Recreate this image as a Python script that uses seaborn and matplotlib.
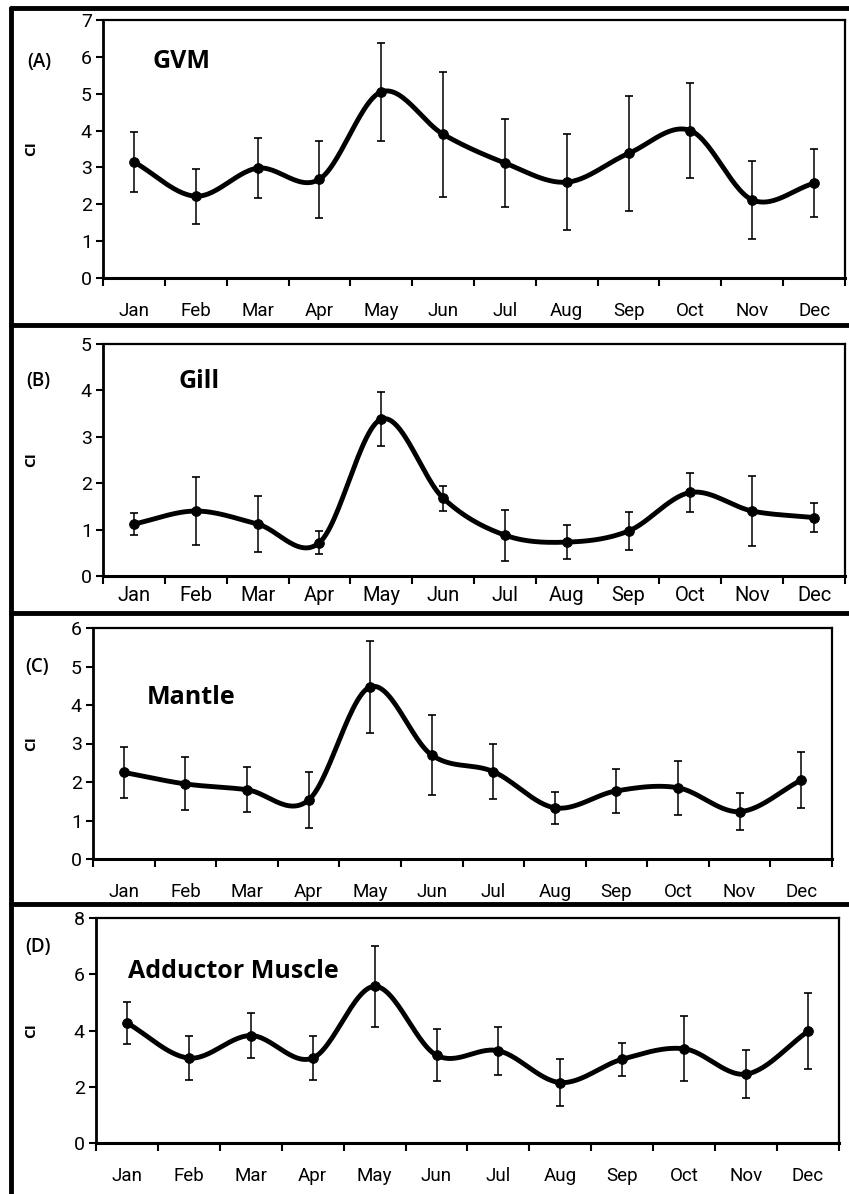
import matplotlib
matplotlib.use('Agg')
import matplotlib.pyplot as plt
import numpy as np
import seaborn as sns
from matplotlib.lines import Line2D

months = ['Jan', 'Feb', 'Mar', 'Apr', 'May', 'Jun', 'Jul', 'Aug', 'Sep', 'Oct', 'Nov', 'Dec']

# CI values, with error bar half widths
gvm = [3.15, 2.22, 2.98, 2.68, 5.05, 3.90, 3.12, 2.60, 3.38, 4.00, 2.12, 2.57]
gvm_err = [0.82, 0.75, 0.82, 1.05, 1.33, 1.70, 1.20, 1.30, 1.55, 1.30, 1.05, 0.92]

gill = [1.12, 1.40, 1.12, 0.72, 3.38, 1.68, 0.88, 0.73, 0.97, 1.80, 1.40, 1.26]
gill_err = [0.23, 0.74, 0.60, 0.25, 0.58, 0.27, 0.55, 0.36, 0.42, 0.42, 0.75, 0.32]

mantle = [2.25, 1.95, 1.80, 1.53, 4.47, 2.70, 2.27, 1.33, 1.77, 1.85, 1.23, 2.05]
mantle_err = [0.66, 0.69, 0.58, 0.73, 1.19, 1.03, 0.72, 0.42, 0.57, 0.70, 0.48, 0.73]

adductor = [4.27, 3.02, 3.82, 3.02, 5.57, 3.12, 3.28, 2.15, 2.98, 3.35, 2.45, 3.97]
adductor_err = [0.76, 0.78, 0.79, 0.78, 1.44, 0.92, 0.86, 0.82, 0.58, 1.15, 0.85, 1.35]

panels = [
    ('(A)', 'GVM', gvm, gvm_err, 7, 1),
    ('(B)', 'Gill', gill, gill_err, 5, 1),
    ('(C)', 'Mantle', mantle, mantle_err, 6, 1),
    ('(D)', 'Adductor Muscle', adductor, adductor_err, 8, 2),
]

W, H = 849, 1194
# axes boxes in pixels: left, top, right, bottom, label pad (pt), label size
boxes = [
    (103, 20, 845, 278, 17, 13.5),
    (103, 344, 845, 576, 7, 14.5),
    (93, 628, 832, 859, 17, 13.5),
    (96, 918, 839, 1143, 17, 13.5),
]
# where the panel labels sit (x of "(A)", x of name, y of "(A)", y of name)
label_pos = [
    (27, 152, 62, 62),
    (26, 179, 381, 381),
    (25, 147, 667, 697),
    (25, 128, 947, 972),
]


def smooth(x, y, n=30):
    # Catmull-Rom style curve, close to a spreadsheet "smoothed line"
    x = np.asarray(x, float)
    y = np.asarray(y, float)
    px = np.concatenate([[2 * x[0] - x[1]], x, [2 * x[-1] - x[-2]]])
    py = np.concatenate([[2 * y[0] - y[1]], y, [2 * y[-1] - y[-2]]])
    xs, ys = [], []
    t = np.linspace(0, 1, n)
    for i in range(1, len(px) - 2):
        c1x = px[i] + (px[i + 1] - px[i - 1]) / 6
        c1y = py[i] + (py[i + 1] - py[i - 1]) / 6
        c2x = px[i + 1] - (px[i + 2] - px[i]) / 6
        c2y = py[i + 1] - (py[i + 2] - py[i]) / 6
        b = [(1 - t) ** 3, 3 * (1 - t) ** 2 * t, 3 * (1 - t) * t ** 2, t ** 3]
        xs.append(b[0] * px[i] + b[1] * c1x + b[2] * c2x + b[3] * px[i + 1])
        ys.append(b[0] * py[i] + b[1] * c1y + b[2] * c2y + b[3] * py[i + 1])
    return np.concatenate(xs), np.concatenate(ys)


sns.set_theme(style='white')
plt.rcParams['font.family'] = ['Roboto', 'DejaVu Sans']
plt.rcParams['text.color'] = 'black'
plt.rcParams['xtick.color'] = 'black'
plt.rcParams['ytick.color'] = 'black'
plt.rcParams['axes.labelcolor'] = 'black'

fig = plt.figure(figsize=(W / 100, H / 100), dpi=100)

for (tag, name, vals, errs, ymax, ystep), box, lp in zip(panels, boxes, label_pos):
    l, t, r, b, pad, lsize = box
    ax = fig.add_axes([l / W, 1 - b / H, (r - l) / W, (b - t) / H])
    x = np.arange(len(months))

    ax.errorbar(x, vals, yerr=errs, fmt='none', ecolor='black',
                elinewidth=1.1, capsize=3, capthick=1.2, zorder=2)
    cx, cy = smooth(x, vals)
    ax.plot(cx, cy, color='black', linewidth=3.5, solid_capstyle='round', zorder=3)
    sns.scatterplot(x=x, y=vals, ax=ax, color='black', s=50,
                    edgecolor='black', zorder=4, legend=False)

    ax.set_xlim(-0.5, len(months) - 0.5)
    ax.set_ylim(0, ymax)
    ax.set_yticks(np.arange(0, ymax + 0.01, ystep))
    ax.set_xticks(x)
    ax.set_xticklabels(months)
    ax.set_xticks(np.arange(-0.5, len(months)), minor=True)
    ax.tick_params(axis='x', which='major', length=0, pad=pad, labelsize=lsize)
    ax.tick_params(axis='x', which='minor', length=6, width=1.5,
                   direction='out', bottom=True, color='black')
    ax.tick_params(axis='y', length=5, width=1.5, direction='out', left=True,
                   labelsize=14, pad=3, color='black')

    for s in ax.spines.values():
        s.set_color('black')
        s.set_linewidth(1.6)
    ax.spines['left'].set_linewidth(2)
    ax.spines['bottom'].set_linewidth(2.2)
    ax.set_ylabel('')
    ax.set_xlabel('')

    fig.text(31 / W, 1 - (t + b) / 2 / H, 'CI', rotation=90, fontsize=11,
             fontweight='bold', family=['Open Sans', 'DejaVu Sans'],
             ha='center', va='center')
    fig.text(lp[0] / W, 1 - lp[2] / H, tag, fontsize=13.5, fontweight='semibold',
             family=['Open Sans', 'DejaVu Sans'], ha='left', va='center')
    fig.text(lp[1] / W, 1 - lp[3] / H, name, fontsize=18, fontweight='bold',
             family=['Open Sans', 'DejaVu Sans'], ha='left', va='center')

# outer frame and the thick separators between panels
frame = dict(color='black', linewidth=3.5, transform=fig.transFigure)
fig.add_artist(Line2D([11 / W, 11 / W], [0, 1 - 8 / H], **frame))
for yy in [8, 325, 613, 904]:
    fig.add_artist(Line2D([11 / W, 1], [1 - yy / H, 1 - yy / H], **frame))

fig.savefig('out.png', dpi=100, facecolor='white')
